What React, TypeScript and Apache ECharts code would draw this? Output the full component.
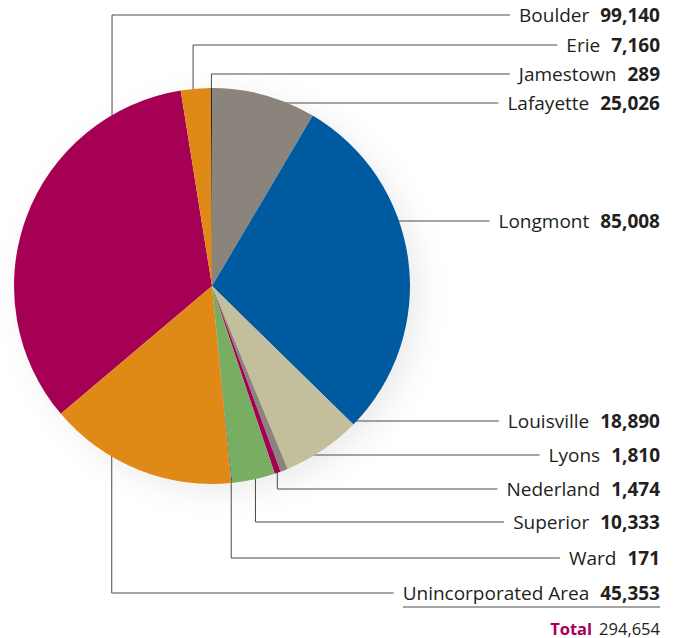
import React, { useEffect, useRef } from "react";
import * as echarts from "echarts";

const names = [
  "Boulder",
  "Erie",
  "Jamestown",
  "Lafayette",
  "Longmont",
  "Louisville",
  "Lyons",
  "Nederland",
  "Superior",
  "Ward",
  "Unincorporated Area",
];
const values = [99140, 7160, 289, 25026, 85008, 18890, 1810, 1474, 10333, 171, 45353];
const colors = [
  "#A60055",
  "#DF8A17",
  "#2E2A26",
  "#8A847C",
  "#005AA0",
  "#C3BF9C",
  "#8A847C",
  "#A60055",
  "#78AE62",
  "#005AA0",
  "#DF8A17",
];

// layout (not data)
const CX = 212;
const CY = 286;
const R = 198;
const RIGHT = 660;
const topIndex = 3; // slice that starts at 12 o'clock
const rowY = [15, 45, 74, 103, 221, 421, 455, 489, 522, 558, 593];
// [fraction along the slice's angle, radius fraction (null = straight line at row)]
const anchors: [number, number | null][] = [
  [0.72, 0.74],
  [0.38, 0.95],
  [0.5, 0.94],
  [0.54, null],
  [0.28, null],
  [0.36, null],
  [0.2, null],
  [0.1, 0.96],
  [0.37, 0.92],
  [0.5, 0.97],
  [0.8, 0.81],
];

const fmt = (v: number) => v.toLocaleString("en-US");
const FONT = "'Open Sans', 'Noto Sans', sans-serif";

export default function App() {
  const ref = useRef<HTMLDivElement>(null);
  useEffect(() => {
    if (!ref.current) return;
    const chart = echarts.init(ref.current, undefined, { renderer: "svg" });
    const total = values.reduce((a, b) => a + b, 0);
    const before = values.slice(0, topIndex).reduce((a, b) => a + b, 0);
    const startCW = 360 - (360 * before) / total; // clockwise from top
    const startAngle = 90 + (360 * before) / total;
    const sliceStart: number[] = [];
    let acc = 0;
    values.forEach((v) => {
      sliceStart.push(startCW + (360 * acc) / total);
      acc += v;
    });
    const anchorPoint = (i: number) => {
      const [f, rf] = anchors[i];
      const th = ((sliceStart[i] + (f * 360 * values[i]) / total) * Math.PI) / 180;
      const s = Math.sin(th);
      const c = Math.cos(th);
      if (rf == null) {
        const t = (rowY[i] - CY) / -c;
        return [CX + t * s, rowY[i]];
      }
      return [CX + R * rf * s, CY - R * rf * c];
    };

    chart.setOption({
      animation: false,
      backgroundColor: "#fff",
      series: [
        {
          type: "pie",
          silent: true,
          center: [CX, CY],
          radius: R,
          z: 1,
          label: { show: false },
          labelLine: { show: false },
          itemStyle: {
            color: "#fff",
            shadowBlur: 30,
            shadowColor: "rgba(0,0,0,0.08)",
            shadowOffsetX: 10,
            shadowOffsetY: 8,
          },
          data: [{ value: 1, name: "" }],
        },
        {
          type: "pie",
          center: [CX, CY],
          radius: R,
          z: 2,
          clockwise: true,
          startAngle,
          avoidLabelOverlap: false,
          minShowLabelAngle: 0,
          silent: true,
          itemStyle: { borderWidth: 0 },
          label: {
            show: true,
            position: "outside",
            formatter: (p: any) => `{n|${p.name}}{v|${fmt(p.value)}}`,
            rich: {
              n: { fontFamily: FONT, fontSize: 19, color: "#231f20" },
              v: {
                fontFamily: FONT,
                fontSize: 19,
                fontWeight: "bold",
                color: "#231f20",
                padding: [0, 0, 0, 11],
              },
            },
          },
          labelLine: {
            show: true,
            smooth: false,
            lineStyle: { color: "#4a4a4a", width: 1 },
          },
          labelLayout: (p: any) => {
            const i = p.dataIndex;
            const y = rowY[i];
            const a = anchorPoint(i);
            const endX = RIGHT - p.labelRect.width - 9;
            const pts =
              anchors[i][1] == null
                ? [
                    [a[0], y],
                    [(a[0] + endX) / 2, y],
                    [endX, y],
                  ]
                : [a, [a[0], y], [endX, y]];
            return {
              x: RIGHT,
              y,
              align: "right",
              verticalAlign: "middle",
              labelLinePoints: pts,
            };
          },
          data: names.map((n, i) => ({
            name: n,
            value: values[i],
            itemStyle: { color: colors[i] },
          })),
        },
      ],
      graphic: [
        {
          type: "line",
          shape: { x1: 403, y1: 607, x2: RIGHT, y2: 607 },
          style: { stroke: "#4a4a4a", lineWidth: 1 },
        },
        {
          type: "text",
          x: RIGHT,
          y: 628,
          style: {
            text: `{t|Total}{v|${fmt(total)}}`,
            align: "right",
            verticalAlign: "middle",
            rich: {
              t: { fontFamily: FONT, fontSize: 16.5, fontWeight: "bold", fill: "#A60055" },
              v: { fontFamily: FONT, fontSize: 16.5, fill: "#231f20", padding: [0, 0, 0, 7] },
            },
          },
        },
      ],
    });
    return () => chart.dispose();
  }, []);
  return (
    <div
      ref={ref}
      style={{ position: "fixed", left: 0, top: 0, width: 676, height: 638 }}
    />
  );
}
